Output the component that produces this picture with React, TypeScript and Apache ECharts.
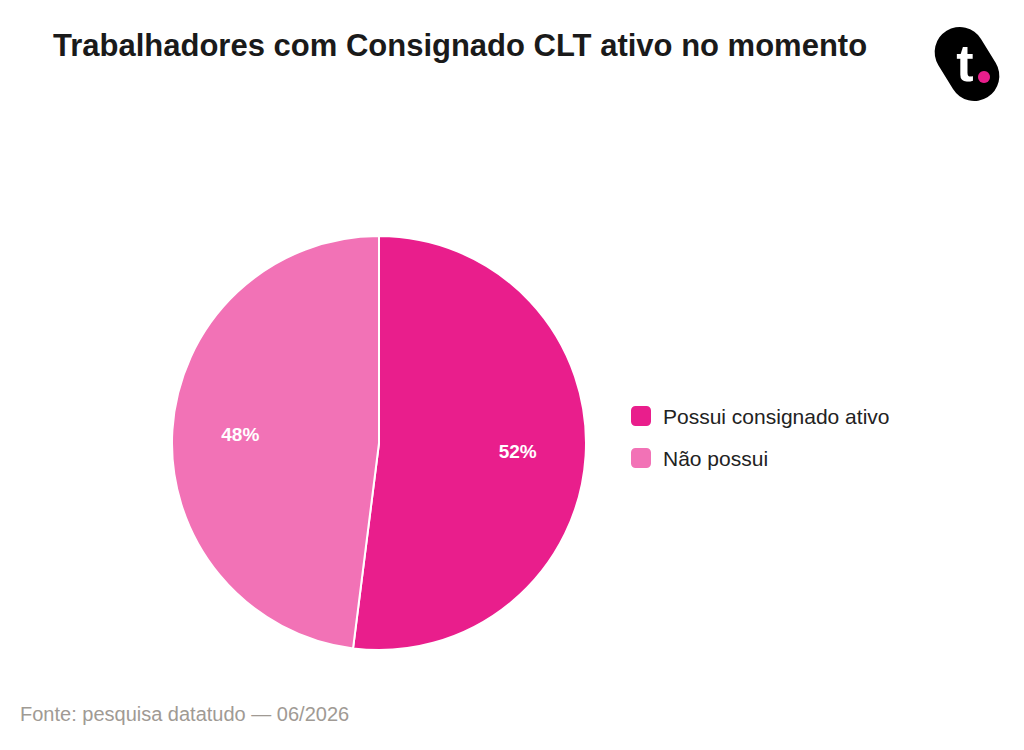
import React, { useEffect, useRef } from "react";
import * as echarts from "echarts";

const titleText = "Trabalhadores com Consignado CLT ativo no momento";
const sourceText = "Fonte: pesquisa datatudo — 06/2026";
const categories = ["Possui consignado ativo", "Não possui"];
const values = [52, 48];
const colors = ["#E91E8C", "#F272B6"];

const FONT = "Liberation Sans, Arial, sans-serif";

export default function App() {
  const ref = useRef<HTMLDivElement>(null);
  useEffect(() => {
    if (!ref.current) return;
    const chart = echarts.init(ref.current, undefined, { renderer: "svg" });
    const data = categories.map((name, i) => ({ name, value: values[i] }));
    chart.setOption({
      animation: false,
      backgroundColor: "#ffffff",
      textStyle: { fontFamily: FONT },
      title: {
        text: titleText,
        left: 48,
        top: 25,
        textStyle: { fontSize: 31, fontWeight: "bold", color: "#1a1a1a", fontFamily: FONT },
      },
      legend: {
        orient: "vertical",
        left: 624,
        top: 399,
        itemWidth: 22,
        itemHeight: 22,
        itemGap: 18,
        icon: "roundRect",
        data: categories,
        textStyle: { fontSize: 21, color: "#222222", padding: [0, 0, 0, 6], fontFamily: FONT },
      },
      series: [
        {
          type: "pie",
          radius: [0, 207],
          center: [379, 443],
          startAngle: 90,
          clockwise: true,
          data: data.map((d, i) => ({ ...d, itemStyle: { color: colors[i] } })),
          itemStyle: { borderColor: "#ffffff", borderWidth: 2 },
          label: { show: false },
          labelLine: { show: false },
          emphasis: { disabled: true },
        },
        {
          type: "pie",
          radius: [0, 272],
          center: [379, 443],
          startAngle: 90,
          clockwise: true,
          silent: true,
          legendHoverLink: false,
          data: data.map((d) => ({ ...d, itemStyle: { color: "transparent" } })),
          itemStyle: { borderWidth: 0 },
          label: {
            show: true,
            position: "inside",
            formatter: "{c}%",
            color: "#ffffff",
            fontSize: 19,
            fontWeight: "bold",
            fontFamily: FONT,
          },
          labelLine: { show: false },
          emphasis: { disabled: true },
          z: 5,
        },
      ],
      graphic: [
        {
          type: "text",
          left: 20,
          top: 704,
          style: { text: sourceText, fontSize: 20, fill: "#a09a94", fontFamily: FONT },
        },
        {
          type: "rect",
          x: 967,
          y: 64,
          rotation: 0.55,
          shape: { x: -25, y: -39, width: 50, height: 78, r: 25 },
          style: { fill: "#000000" },
        },
        {
          type: "text",
          x: 965,
          y: 63,
          style: {
            text: "t",
            fontSize: 52,
            fontWeight: "bold",
            fill: "#ffffff",
            align: "center",
            verticalAlign: "middle",
            fontFamily: FONT,
          },
        },
        {
          type: "circle",
          shape: { cx: 984, cy: 77, r: 6 },
          style: { fill: "#E91E8C" },
        },
      ],
    });
    return () => chart.dispose();
  }, []);
  return <div ref={ref} style={{ position: "fixed", left: 0, top: 0, width: 1024, height: 750 }} />;
}
